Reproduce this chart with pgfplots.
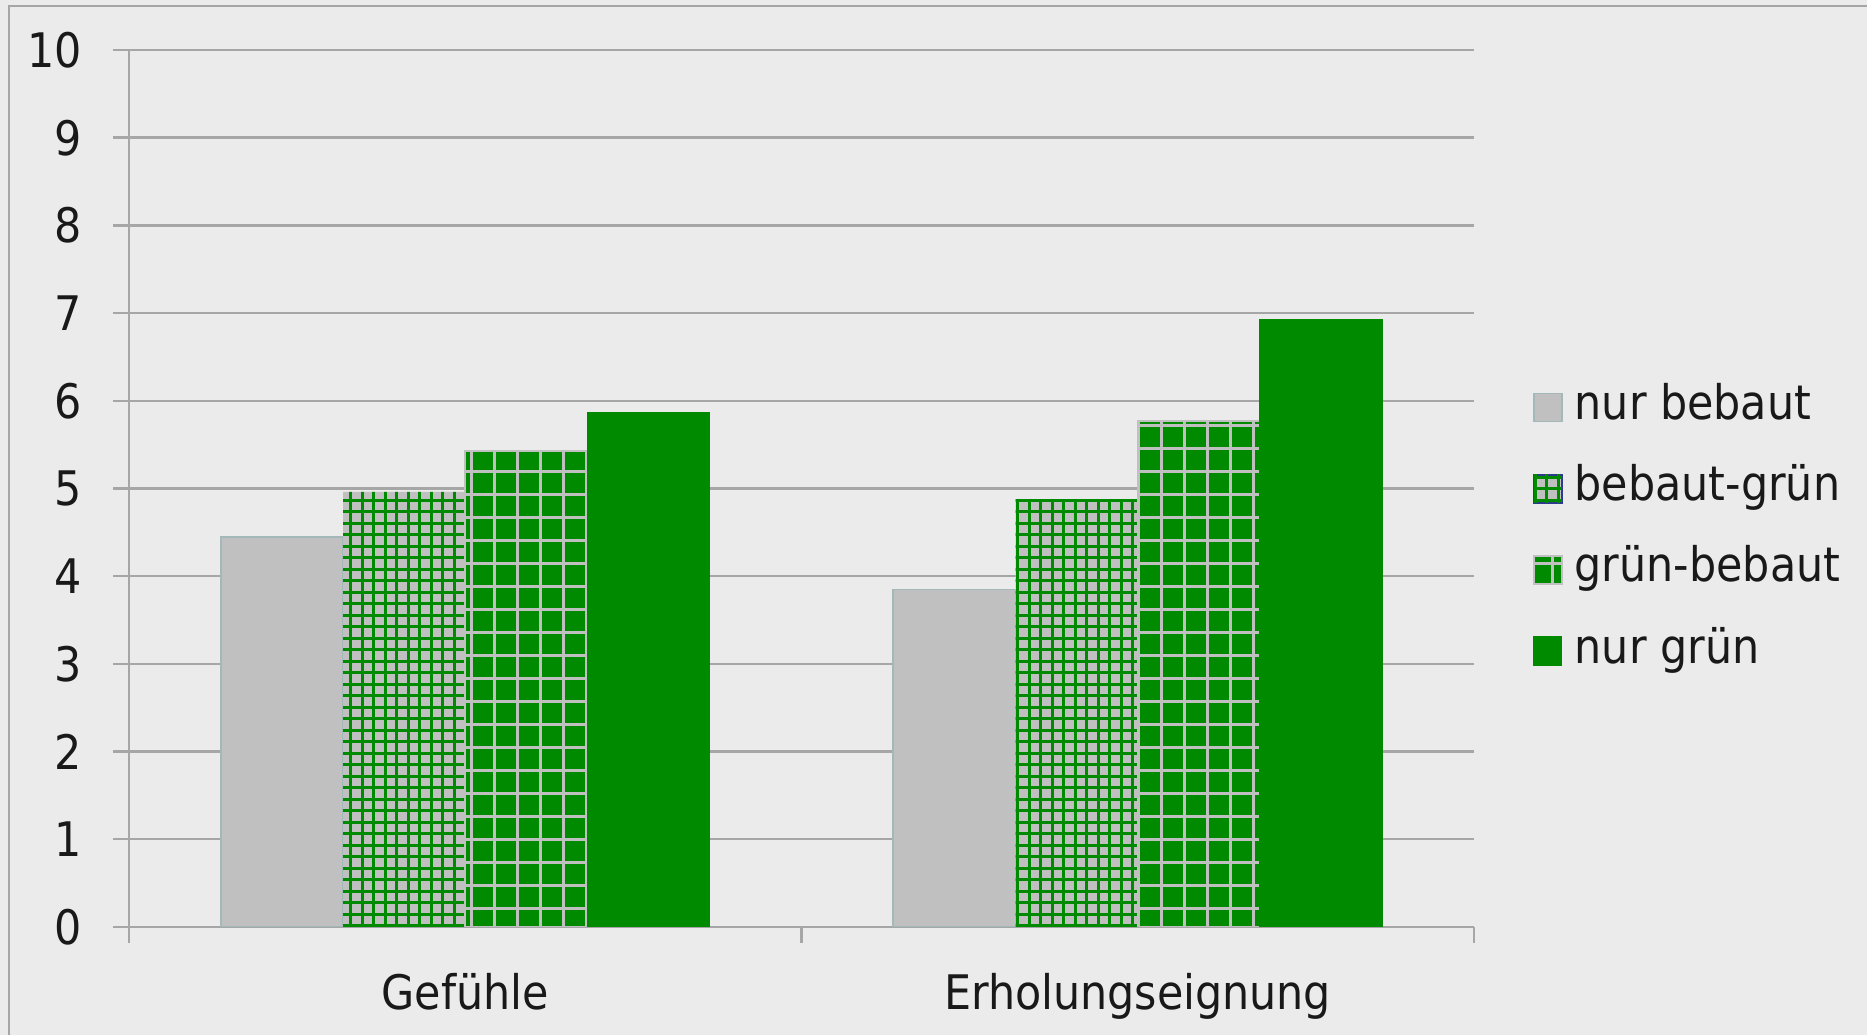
\documentclass[border=0pt]{standalone}
\usepackage{pgfplots}
\pgfplotsset{compat=1.18}
\usepackage{fontspec}
\setmainfont{DejaVu Sans Condensed}
\usetikzlibrary{patterns}

\definecolor{bg}{HTML}{EBEBEB}
\definecolor{grn}{HTML}{008A00}
\definecolor{lgray}{HTML}{C0C0C0}
\definecolor{gridc}{HTML}{A6A6A6}
\definecolor{bordc}{HTML}{A3B8B8}
\definecolor{navy}{HTML}{2E3A8C}

\pgfdeclarepatternformonly{finegrid}{\pgfqpoint{-0.1pt}{-0.1pt}}{\pgfqpoint{2.975pt}{2.975pt}}{\pgfqpoint{2.875pt}{2.875pt}}{%
 \pgfsetlinewidth{0.8pt}%
 \pgfpathmoveto{\pgfqpoint{-0.1pt}{1.4375pt}}\pgfpathlineto{\pgfqpoint{2.975pt}{1.4375pt}}%
 \pgfpathmoveto{\pgfqpoint{1.4375pt}{-0.1pt}}\pgfpathlineto{\pgfqpoint{1.4375pt}{2.975pt}}%
 \pgfusepath{stroke}}
\pgfdeclarepatternformonly{coarsegrid}{\pgfqpoint{-0.1pt}{-0.1pt}}{\pgfqpoint{5.85pt}{5.85pt}}{\pgfqpoint{5.75pt}{5.75pt}}{%
 \pgfsetlinewidth{0.6pt}%
 \pgfpathmoveto{\pgfqpoint{-0.1pt}{2.875pt}}\pgfpathlineto{\pgfqpoint{5.85pt}{2.875pt}}%
 \pgfpathmoveto{\pgfqpoint{2.875pt}{-0.1pt}}\pgfpathlineto{\pgfqpoint{2.875pt}{5.85pt}}%
 \pgfusepath{stroke}}

\pgfplotstableread{
x   nb    bg    gb    ng
0   4.45  4.96  5.43  5.87
1   3.85  4.88  5.77  6.93
}\datatab

\begin{document}
\begin{tikzpicture}
\fill[bg] (0,0) rectangle (466.75pt,258.75pt);
\path[use as bounding box] (0,0) rectangle (466.75pt,258.75pt);
\draw[gridc, line width=0.5pt] (2.25pt,0) -- (2.25pt,257.25pt) -- (466.75pt,257.25pt);
\begin{axis}[
  at={(32.25pt,27pt)}, anchor=south west,
  scale only axis, width=336.25pt, height=219.25pt,
  font=\fontsize{11.9pt}{14pt}\selectfont,
  /pgf/number format/assume math mode=true,
  xmin=-0.5, xmax=1.5, ymin=0, ymax=10,
  ytick={0,1,...,10},
  axis lines=left,
  axis line style={-, gridc, line width=0.6pt},
  ymajorgrids, grid style={gridc, line width=0.6pt},
  tick style={gridc, line width=0.6pt},
  tick align=outside, major tick length=4pt,
  yticklabel style={anchor=east, inner sep=0pt, xshift=-7.5pt, text=black!90},
  xtick={-0.5,0.5,1.5}, xticklabels={},
  extra x ticks={0,1}, extra x tick labels={Gefühle, Erholungseignung},
  extra x tick style={major tick length=0pt, grid=none,
     xticklabel style={anchor=base, inner sep=0pt, yshift=-20.75pt, text=black!90}},
  ybar, bar width=30.56pt,
  legend style={at={(1,0.4535)}, anchor=west, xshift=14.5pt, draw=none, fill=none,
     inner sep=0pt, row sep=8.3pt,
     nodes={inner sep=0pt, text height=9pt, text depth=3pt, text=black!90},
     /tikz/every odd column/.append style={column sep=3pt}},
  legend cell align=left,
  legend image code/.code={\draw[#1] (0pt,-3.5pt) rectangle (7pt,3.5pt);},
]
\addplot[fill=lgray, draw=bordc, line width=0.4pt, bar shift=-45.84pt] table[x=x,y=nb] {\datatab};
\addplot[fill=lgray, draw=none, bar shift=-15.28pt, postaction={pattern=finegrid, pattern color=grn},
  legend image code/.code={\draw[fill=lgray, draw=navy, line width=0.5pt, postaction={pattern=finegrid, pattern color=grn}] (0pt,-3.5pt) rectangle (7pt,3.5pt);}] table[x=x,y=bg] {\datatab};
\addplot[fill=grn, draw=lgray, line width=0.5pt, bar shift=15.28pt, postaction={pattern=coarsegrid, pattern color=lgray}] table[x=x,y=gb] {\datatab};
\addplot[fill=grn, draw=grn, line width=0.3pt, bar shift=45.84pt] table[x=x,y=ng] {\datatab};
\legend{nur bebaut, bebaut-grün, grün-bebaut, nur grün}
\end{axis}
\end{tikzpicture}
\end{document}
